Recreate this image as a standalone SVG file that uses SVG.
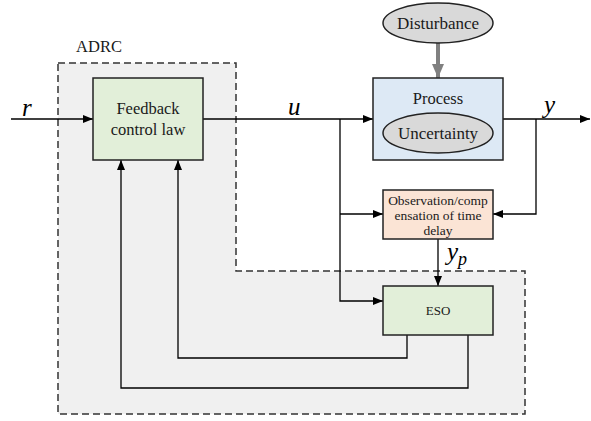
<svg xmlns="http://www.w3.org/2000/svg" width="591" height="421" viewBox="0 0 591 421">
<defs>
<marker id="ah" viewBox="0 0 10 8" refX="10" refY="4" markerWidth="10" markerHeight="8" markerUnits="userSpaceOnUse" orient="auto">
<path d="M0,0 L10,4 L0,8 Z" fill="#000"/>
</marker>
<marker id="ahg" viewBox="0 0 14 12" refX="14" refY="6" markerWidth="14" markerHeight="12" markerUnits="userSpaceOnUse" orient="auto">
<path d="M0,0 L14,6 L0,12 Z" fill="#808080"/>
</marker>
</defs>
<style>
text{font-family:'Liberation Serif','Times New Roman',Times,serif}
.t{fill:#1a1a1a;text-anchor:middle}
.v{font-style:italic;fill:#000;font-size:25px}
.c{fill:none;stroke:#000;stroke-width:1.3}
.box{stroke:#222;stroke-width:1.5}
</style>
<g id="adrc">
<path d="M58,63 H236 V271 H525 V414 H58 Z" fill="#f0f0f0" stroke="#333" stroke-width="1.5" stroke-dasharray="7,4"/>
<text class="t" x="99" y="52" font-size="16.5">ADRC</text>
</g>
<g id="connectors">
<path class="c" d="M11,119 H93" marker-end="url(#ah)"/>
<path class="c" d="M203,119 H373" marker-end="url(#ah)"/>
<path class="c" d="M503,119 H590" marker-end="url(#ah)"/>
<path class="c" d="M340,119 V301 H383" marker-end="url(#ah)"/>
<path class="c" d="M340,214 H383" marker-end="url(#ah)"/>
<path class="c" d="M536,119 V214 H493" marker-end="url(#ah)"/>
<path class="c" d="M438,239 V286" marker-end="url(#ah)"/>
<path class="c" d="M407,335 V358 H178 V160" marker-end="url(#ah)"/>
<path class="c" d="M468,335 V388 H121 V160" marker-end="url(#ah)"/>
<path d="M438,43 V78" stroke="#808080" stroke-width="4" fill="none" marker-end="url(#ahg)"/>
<text class="v" x="22" y="116">r</text>
<text class="v" x="288" y="115">u</text>
<text class="v" x="544" y="113">y</text>
<text class="v" x="447" y="260">y<tspan font-size="18" dy="5">p</tspan></text>
</g>
<g id="feedback">
<rect class="box" x="93" y="78" width="110" height="82" fill="#e2efd9"/>
<text class="t" x="148" y="114" font-size="16.5">Feedback</text>
<text class="t" x="148" y="135" font-size="16.5">control law</text>
</g>
<g id="disturbance">
<ellipse class="box" cx="438" cy="23" rx="55" ry="20" fill="#d9d9d9"/>
<text class="t" x="438" y="29" font-size="17">Disturbance</text>
</g>
<g id="process">
<rect class="box" x="373" y="78" width="130" height="82" fill="#dde9f5"/>
<text class="t" x="438" y="104" font-size="16.5">Process</text>
<ellipse class="box" cx="438" cy="133" rx="55" ry="20" fill="#d9d9d9"/>
<text class="t" x="438" y="139" font-size="17">Uncertainty</text>
</g>
<g id="observer">
<rect class="box" x="383" y="190" width="110" height="49" fill="#fbe4d5"/>
<text class="t" x="438" y="204.5" font-size="13.5">Observation/comp</text>
<text class="t" x="438" y="219.5" font-size="13.5">ensation of time</text>
<text class="t" x="438" y="235" font-size="13.5">delay</text>
</g>
<g id="eso">
<rect class="box" x="383" y="286" width="110" height="49" fill="#e2efd9"/>
<text class="t" x="438" y="315" font-size="13">ESO</text>
</g>
</svg>
